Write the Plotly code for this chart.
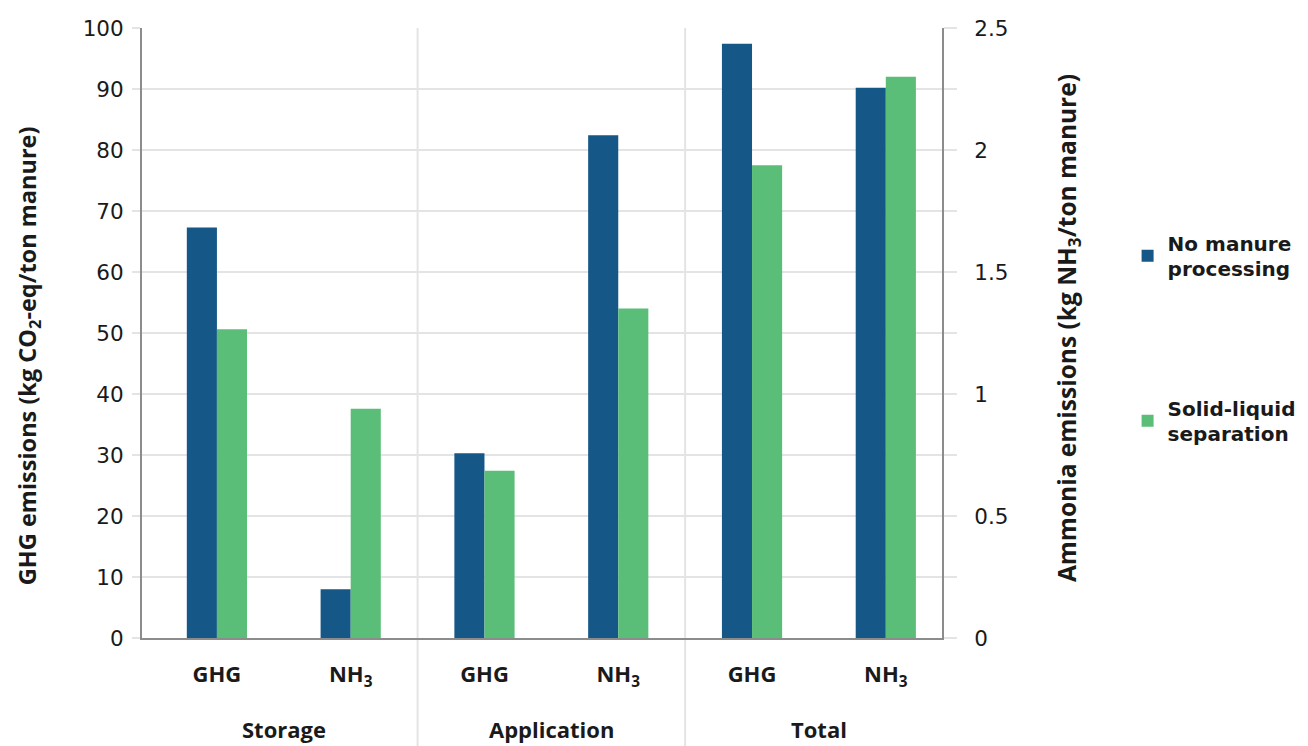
import plotly.graph_objects as go

# ---- data ----
categories = ["Storage GHG", "Storage NH3", "Application GHG", "Application NH3", "Total GHG", "Total NH3"]
tick_labels = ["GHG", "NH<sub>3</sub>", "GHG", "NH<sub>3</sub>", "GHG", "NH<sub>3</sub>"]
groups = ["Storage", "Application", "Total"]
series_names = ["No manure<br>processing", "Solid-liquid<br>separation"]
left_title = "GHG emissions (kg CO<sub>2</sub>-eq/ton manure)"
right_title = "Ammonia emissions (kg NH<sub>3</sub>/ton manure)"

ghg_cats = ["Storage GHG", "Application GHG", "Total GHG"]
nh3_cats = ["Storage NH3", "Application NH3", "Total NH3"]

ghg_no_processing = [67.3, 30.3, 97.4]      # kg CO2-eq / ton manure
ghg_separation = [50.6, 27.4, 77.5]
nh3_no_processing = [0.20, 2.06, 2.255]     # kg NH3 / ton manure
nh3_separation = [0.94, 1.35, 2.30]

left_ticks = [0, 10, 20, 30, 40, 50, 60, 70, 80, 90, 100]
right_ticks = [0, 0.5, 1, 1.5, 2, 2.5]
right_ticktext = ["0", "0.5", "1", "1.5", "2", "2.5"]

BLUE = "#155787"
GREEN = "#5BBE78"
GRID = "#e4e4e4"
AXIS = "#8c8c8c"
TXT = "#1a1a1a"
CAT_FONT = "Open Sans"
NUM_FONT = "DejaVu Sans"

fig = go.Figure()
fig.add_trace(go.Bar(x=ghg_cats, y=ghg_no_processing, name=series_names[0], marker_color=BLUE,
                     marker_line_width=0, offsetgroup="no", legendgroup="no", yaxis="y"))
fig.add_trace(go.Bar(x=ghg_cats, y=ghg_separation, name=series_names[1], marker_color=GREEN,
                     marker_line_width=0, offsetgroup="sep", legendgroup="sep", yaxis="y"))
fig.add_trace(go.Bar(x=nh3_cats, y=nh3_no_processing, name=series_names[0], marker_color=BLUE,
                     marker_line_width=0, offsetgroup="no", legendgroup="no", showlegend=False,
                     yaxis="y2"))
fig.add_trace(go.Bar(x=nh3_cats, y=nh3_separation, name=series_names[1], marker_color=GREEN,
                     marker_line_width=0, offsetgroup="sep", legendgroup="sep", showlegend=False,
                     yaxis="y2"))

shapes = []
for sep in [1.5, 3.5]:
    shapes.append(dict(type="line", xref="x", yref="paper", x0=sep, x1=sep, y0=-0.2, y1=1,
                       line=dict(color=GRID, width=2), layer="below"))

annotations = []
for i, g in enumerate(groups):
    annotations.append(dict(x=2 * i + 0.5, xref="x", y=0, yref="paper", yshift=-91, text=g,
                            showarrow=False, yanchor="middle",
                            font=dict(family=CAT_FONT, size=22, color=TXT, weight="bold")))
# axis titles (placed as rotated annotations to match the reference position)
annotations.append(dict(x=0, xref="paper", xshift=-114, y=0.462, yref="paper", text=left_title,
                        textangle=-90, showarrow=False, xanchor="center", yanchor="middle",
                        font=dict(family=CAT_FONT, size=23.5, color=TXT, weight="bold")))
annotations.append(dict(x=1, xref="paper", xshift=126, y=0.508, yref="paper", text=right_title,
                        textangle=-90, showarrow=False, xanchor="center", yanchor="middle",
                        font=dict(family=CAT_FONT, size=24.5, color=TXT, weight="bold")))

fig.update_layout(
    width=1300, height=738,
    margin=dict(l=134, r=366, t=20, b=108, autoexpand=False),
    paper_bgcolor="white", plot_bgcolor="white",
    barmode="group", bargap=0.55, bargroupgap=0,
    showlegend=True,
    legend=dict(x=1.232, y=0.68, xanchor="left", yanchor="top", tracegroupgap=110,
                traceorder="grouped",
                font=dict(family=NUM_FONT, size=20, color=TXT, weight="bold"),
                bgcolor="rgba(0,0,0,0)"),
    xaxis=dict(type="category", categoryorder="array", categoryarray=categories,
               tickmode="array", tickvals=categories, ticktext=tick_labels,
               range=[-0.56, 5.42], showgrid=False, showline=True, linecolor=AXIS, linewidth=2,
               ticks="outside", ticklen=16, tickcolor="rgba(0,0,0,0)",
               tickfont=dict(family=CAT_FONT, size=22, color=TXT, weight="bold"),
               zeroline=False),
    yaxis=dict(range=[0, 100], tickvals=left_ticks, showgrid=True, gridcolor=GRID, gridwidth=2,
               showline=True, linecolor=AXIS, linewidth=2, ticks="outside", ticklen=8,
               tickcolor=GRID, tickwidth=2, zeroline=False, ticklabelstandoff=4,
               tickfont=dict(family=NUM_FONT, size=21.5, color=TXT)),
    yaxis2=dict(range=[0, 2.5], overlaying="y", side="right", tickmode="array",
                tickvals=right_ticks, ticktext=right_ticktext, showgrid=False,
                showline=True, linecolor=AXIS, linewidth=2, ticks="outside", ticklen=13,
                tickcolor=GRID, tickwidth=2, zeroline=False, ticklabelstandoff=13,
                minor=dict(dtick=0.25, ticks="outside", ticklen=13, tickcolor=GRID, tickwidth=2,
                           showgrid=False),
                tickfont=dict(family=NUM_FONT, size=21.5, color=TXT)),
    shapes=shapes, annotations=annotations,
)

fig.write_html("out.html")
